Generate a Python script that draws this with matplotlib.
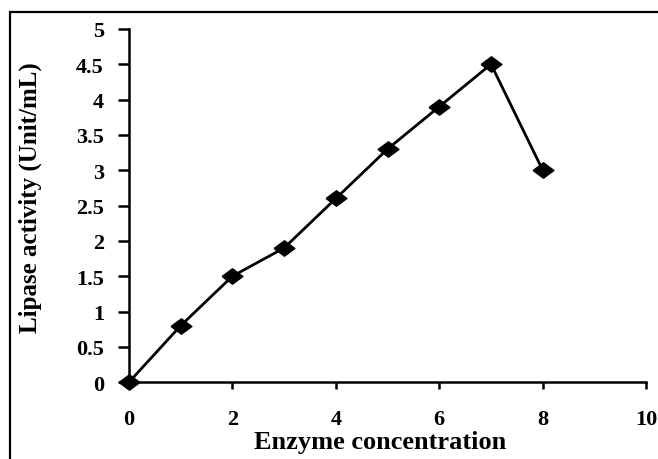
import matplotlib.pyplot as plt
from matplotlib.patches import Rectangle

# enzyme concentration vs lipase activity
concentration = [0, 1, 2, 3, 4, 5, 6, 7, 8]
activity = [0, 0.8, 1.5, 1.9, 2.6, 3.3, 3.9, 4.5, 3.0]

x_ticks = [0, 2, 4, 6, 8, 10]
y_ticks = [0, 0.5, 1, 1.5, 2, 2.5, 3, 3.5, 4, 4.5, 5]
y_labels = ["0", "0.5", "1", "1.5", "2", "2.5", "3", "3.5", "4", "4.5", "5"]

plt.rcParams["font.family"] = ["Liberation Serif", "DejaVu Serif"]
plt.rcParams["font.weight"] = "bold"

fig = plt.figure(figsize=(6.58, 4.6), dpi=100)
ax = fig.add_axes([0.196, 0.167, 0.786, 0.768])

# flattened diamond
diamond = [(-1.35, 0), (0, 1), (1.35, 0), (0, -1), (-1.35, 0)]
ax.plot(concentration, activity, color="black", linewidth=2,
        marker=diamond, markersize=15, markerfacecolor="black",
        markeredgecolor="black", clip_on=False)

ax.set_xlim(0, 10)
ax.set_ylim(0, 5)
ax.set_xticks(x_ticks)
ax.set_yticks(y_ticks)
ax.set_yticklabels(y_labels)

for side in ["top", "right"]:
    ax.spines[side].set_visible(False)
for side in ["left", "bottom"]:
    ax.spines[side].set_linewidth(1.8)

ax.tick_params(axis="y", direction="out", length=8, width=1.8, labelsize=16, pad=10)
ax.tick_params(axis="x", direction="out", length=5, width=1.8, labelsize=16, pad=14)
for lbl in ax.get_xticklabels() + ax.get_yticklabels():
    lbl.set_fontweight("bold")

ax.set_xlabel("Enzyme concentration", fontsize=19, fontweight="bold")
ax.set_ylabel("Lipase activity (Unit/mL)", fontsize=18, fontweight="bold")
ax.xaxis.set_label_coords(0.485, -0.135)
ax.yaxis.set_label_coords(-0.168, 0.524)

# frame round the picture
fig.patches.append(Rectangle((10 / 658, -0.1), 1.2, 1 - 13 / 460 + 0.1,
                             transform=fig.transFigure, fill=False,
                             edgecolor="black", linewidth=1.6))

plt.savefig("out.png", dpi=100)
